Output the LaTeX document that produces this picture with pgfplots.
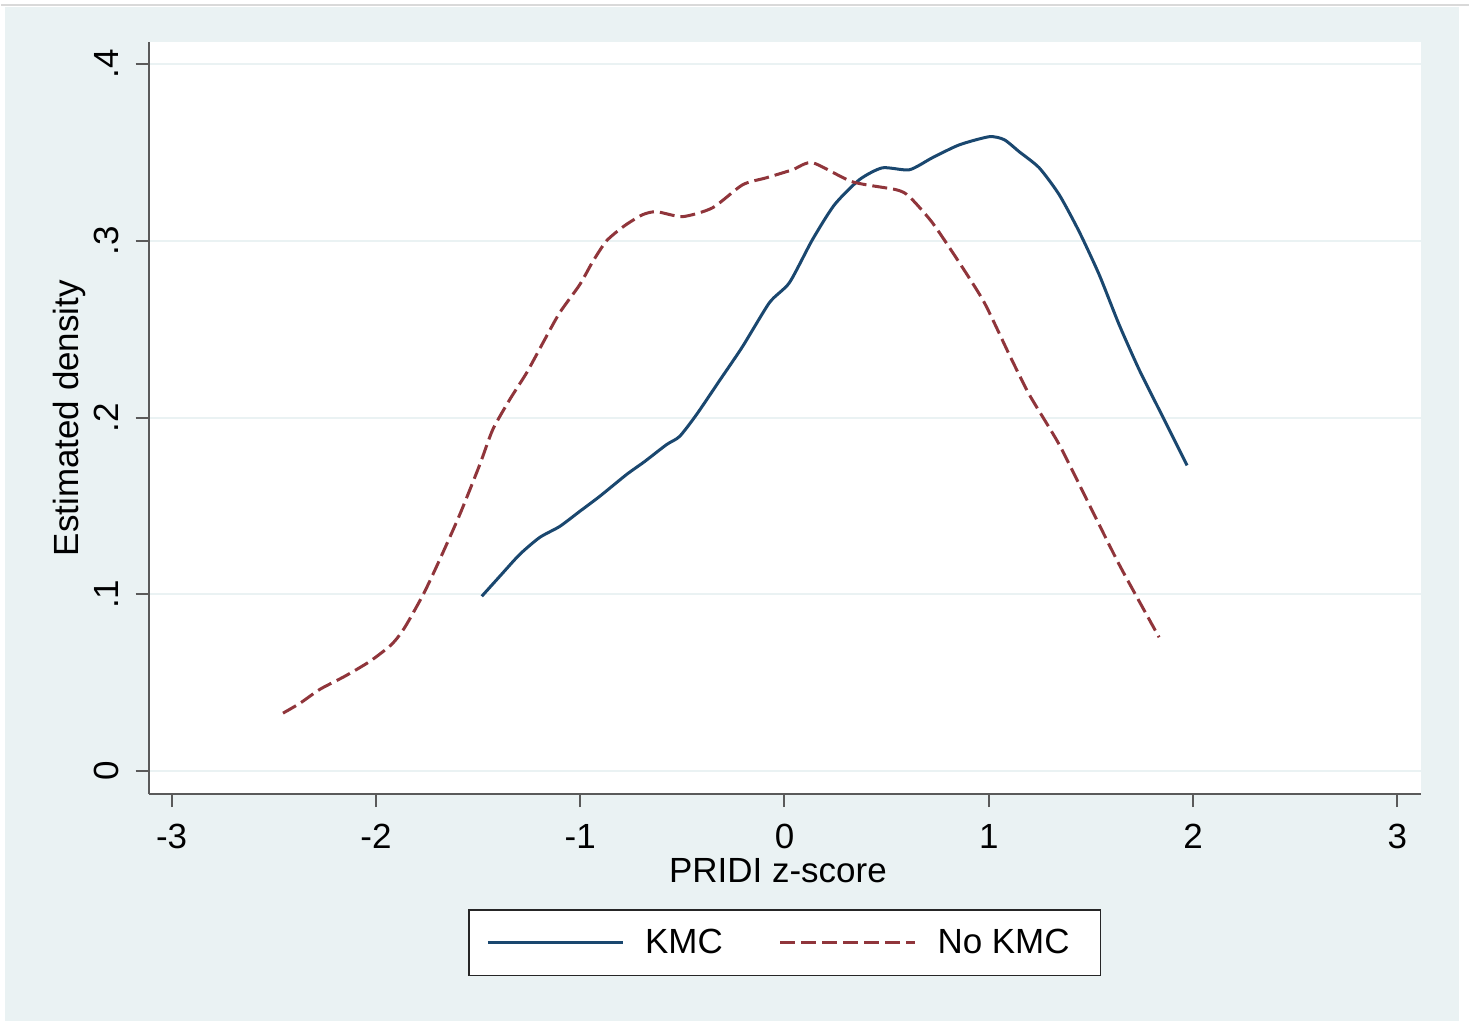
\documentclass[border=0pt]{standalone}
\usepackage{fontspec}
\setmainfont{Liberation Sans}
\usepackage{pgfplots}
\pgfplotsset{compat=1.18}

\definecolor{stbg}{RGB}{234,242,243}
\definecolor{stnavy}{RGB}{26,71,111}
\definecolor{stmaroon}{RGB}{144,53,59}
\definecolor{staxis}{RGB}{90,90,90}

\newcommand{\lbl}{\fontsize{17.5}{21}\selectfont}

\begin{document}
\begin{tikzpicture}
  \fill[white] (0,0) rectangle (735pt,511pt);
  \fill[stbg] (2pt,0) rectangle (730pt,507.5pt);
  \draw[black!15, line width=0.8pt] (0,508.6pt) -- (735pt,508.6pt);
  \useasboundingbox (0,0) rectangle (735pt,511pt);
  \begin{axis}[
    at={(74pt,113.5pt)}, anchor=south west,
    scale only axis, width=637pt, height=376.5pt,
    xmin=-3.1125, xmax=3.117, ymin=-0.013, ymax=0.4124,
    axis background/.style={fill=white},
    axis x line*=bottom, axis y line*=left,
    axis line style={staxis, line width=1pt, -},
    tick align=outside, major tick length=6.5pt,
    tick style={staxis, line width=1pt},
    xtick={-3,-2,-1,0,1,2,3},
    xticklabels={-3,-2,-1,0,1,2,3},
    ytick={0,0.1,0.2,0.3,0.4},
    yticklabels={0,.1,.2,.3,.4},
    ticklabel style={font=\lbl, black},
    xticklabel style={yshift=-5pt},
    yticklabel style={rotate=90, anchor=south, yshift=5pt},
    ymajorgrids,
    major grid style={stbg, line width=1pt},
    xlabel={PRIDI z-score},
    xlabel style={font=\lbl, at={(rel axis cs:0.5,0)}, anchor=base, yshift=-44pt, xshift=-3.5pt},
    ylabel={Estimated density},
    ylabel style={font=\lbl, at={(rel axis cs:0,0.5)}, anchor=base, rotate=0, yshift=35pt},
    legend columns=2,
    legend image code/.code={\draw[#1] (0pt,0pt) -- (67.5pt,0pt);},
    legend style={at={(0.5,0)}, anchor=center, yshift=-74.5pt,
      draw=black!85, line width=0.8pt, fill=white,
      inner xsep=8.5pt, inner ysep=9.5pt,
      nodes={inner sep=0pt, font=\lbl},
      /tikz/every odd column/.append style={column sep=10.5pt},
      /tikz/every even column/.append style={column sep=28pt}},
  ]
    % KMC
    \addplot[stnavy, line width=1.5pt, smooth, tension=0.4, line join=round] coordinates {
      (-1.4817,0.0989) (-1.3936,0.1102) (-1.2958,0.1226) (-1.1980,0.1322)
      (-1.1002,0.1384) (-1.0024,0.1469) (-0.9046,0.1554) (-0.7726,0.1678)
      (-0.6846,0.1751) (-0.5770,0.1847) (-0.5134,0.1893) (-0.4303,0.2017)
      (-0.3178,0.2209) (-0.2054,0.2401) (-0.0733,0.2650) (0.0244,0.2763)
      (0.1369,0.3006) (0.2445,0.3203) (0.3667,0.3345) (0.4792,0.3412)
      (0.6112,0.3401) (0.7237,0.3469) (0.8557,0.3542) (1.0024,0.3588)
      (1.0758,0.3571) (1.1491,0.3503) (1.2469,0.3412) (1.3447,0.3260)
      (1.4425,0.3051) (1.5403,0.2808) (1.6381,0.2525) (1.7359,0.2271)
      (1.8337,0.2045) (1.9071,0.1876) (1.9707,0.1729)
    };
    \addlegendentry{KMC}
    % No KMC
    \addplot[stmaroon, line width=1.5pt, dash pattern=on 7.5pt off 3pt, smooth, tension=0.4, line join=round] coordinates {
      (-2.4548,0.0328) (-2.3716,0.0384) (-2.2738,0.0463) (-2.1516,0.0537)
      (-2.0293,0.0621) (-1.9218,0.0718) (-1.8582,0.0814) (-1.7653,0.1006)
      (-1.6870,0.1198) (-1.5892,0.1452) (-1.4914,0.1734) (-1.4279,0.1932)
      (-1.3447,0.2102) (-1.2616,0.2254) (-1.1736,0.2441) (-1.1002,0.2593)
      (-1.0024,0.2751) (-0.9389,0.2881) (-0.8704,0.3000) (-0.7824,0.3085)
      (-0.6944,0.3147) (-0.6259,0.3164) (-0.4988,0.3136) (-0.3521,0.3186)
      (-0.2054,0.3316) (-0.0880,0.3356) (0.0391,0.3401) (0.1369,0.3441)
      (0.3325,0.3333) (0.5477,0.3288) (0.6112,0.3249) (0.7237,0.3102)
      (0.8557,0.2876) (0.9780,0.2650) (1.1002,0.2356) (1.1980,0.2130)
      (1.3447,0.1847) (1.4914,0.1508) (1.6381,0.1169) (1.7848,0.0859)
      (1.8337,0.0757)
    };
    \addlegendentry{No KMC\kern7pt}
  \end{axis}
\end{tikzpicture}
\end{document}
